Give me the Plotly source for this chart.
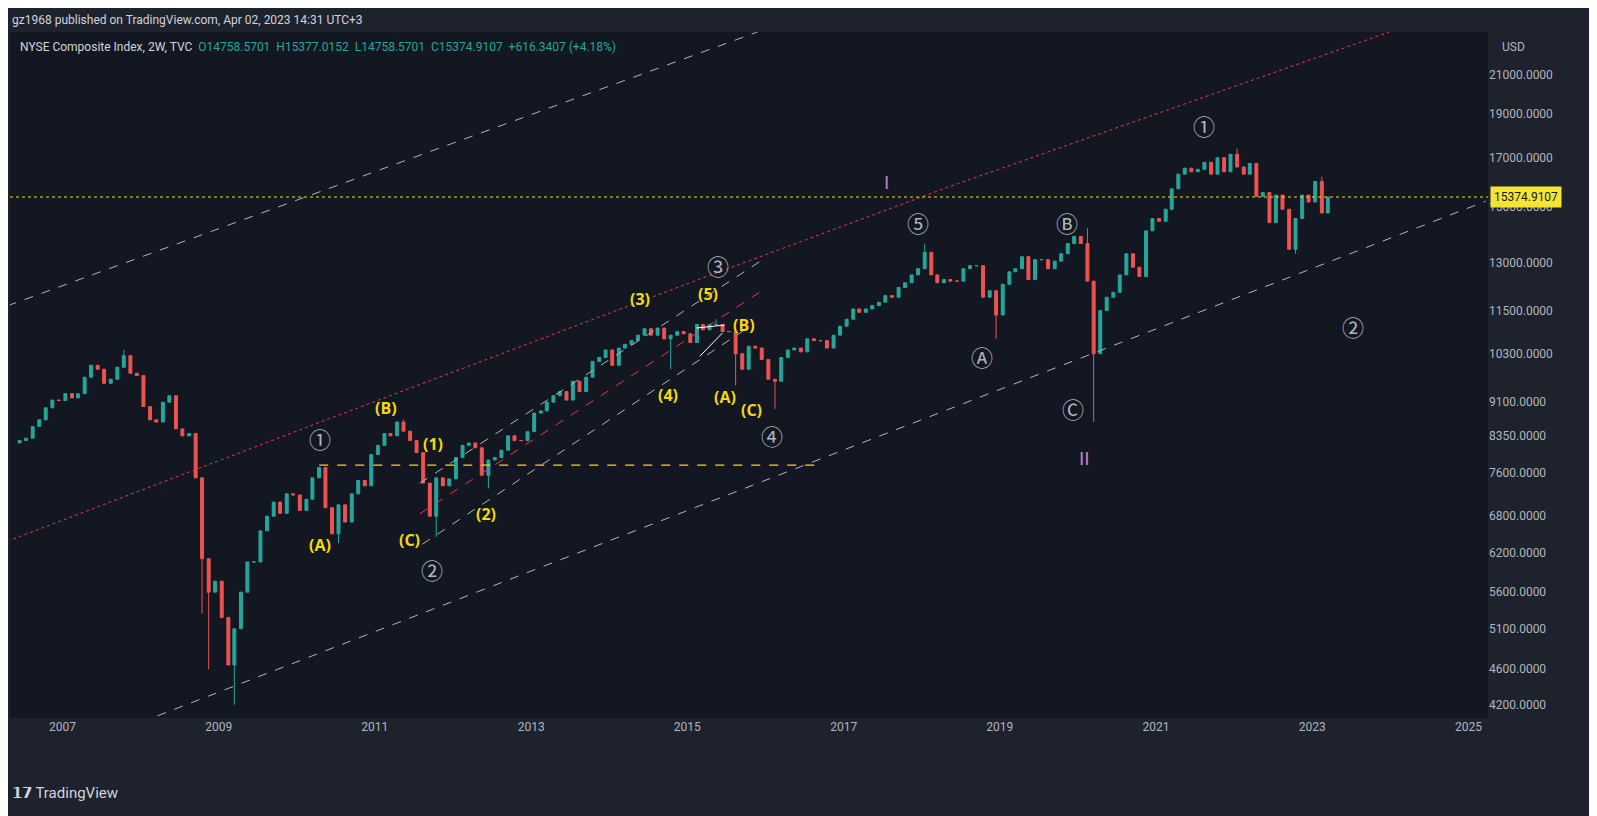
"""NYSE Composite Index, 2W - Elliott wave count"""
import datetime as dt
import math
import plotly.graph_objects as go

# monthly closes, Jun 2006 .. Mar 2023
start_year, start_month = 2006, 6
closes = [
    8250, 8300, 8550, 8700, 8970, 9150, 9140,
    9300, 9200, 9300, 9700, 10000, 9900, 9550, 9650, 9950, 10250, 9800, 9740,
    9000, 8700, 8650, 9100, 9250, 8500, 8350, 8400, 7500, 6100, 5600, 5760,
    5250, 4650, 5100, 5600, 6050, 6050, 6550, 6800, 7050, 6850, 7200, 7180,
    6900, 7100, 7500, 7700, 6950, 6500, 7000, 6700, 7200, 7450, 7350, 7960,
    8150, 8400, 8350, 8650, 8450, 8250, 8000, 7400, 6800, 7500, 7350, 7480,
    7900, 8150, 8200, 8100, 7550, 7850, 7900, 8050, 8350, 8250, 8250, 8440,
    8850, 8900, 9100, 9250, 9350, 9150, 9600, 9350, 9700, 10100, 10200, 10400,
    10000, 10450, 10550, 10650, 10800, 10980, 10800, 11000, 10700, 10800, 10900, 10840,
    10600, 11100, 10950, 11100, 11100, 10900, 10900, 10300, 9900, 10500, 10450, 10150,
    9650, 9600, 10200, 10400, 10450, 10350, 10700, 10650, 10650, 10450, 10800, 11050,
    11250, 11550, 11450, 11550, 11650, 11750, 11950, 11900, 12200, 12350, 12600, 12800,
    13350, 12600, 12350, 12450, 12400, 12400, 12800, 12900, 12900, 11900, 12100, 11370,
    12300, 12700, 12800, 13200, 12450, 13100, 13100, 12800, 13050, 13300, 13650, 13900,
    13650, 12400, 10300, 11500, 11900, 12050, 12600, 13300, 12850, 12550, 14100, 14550,
    14450, 14900, 15700, 16300, 16550, 16400, 16500, 16800, 16300, 17000, 16400, 17150,
    16600, 16300, 16750, 15400, 15550, 14400, 15450, 14900, 13450, 14550, 15450, 15180,
    16000, 14759, 15375,
]
first_open = 8200
# notable wicks
wick_lows = {(2008, 10): 5300, (2008, 11): 4600, (2009, 3): 4200, (2010, 7): 6350,
             (2011, 10): 6450, (2012, 6): 7300, (2014, 10): 9900, (2015, 8): 9500,
             (2016, 2): 8950, (2018, 12): 10700, (2020, 3): 8650, (2022, 10): 13300}
wick_highs = {(2007, 10): 10400, (2011, 5): 8700, (2015, 5): 11250, (2018, 1): 13650,
              (2020, 2): 14200, (2022, 1): 17400, (2023, 2): 16200}

last_price = 15374.9107
y_ticks = [4200, 4600, 5100, 5600, 6200, 6800, 7600, 8350, 9100, 10300,
           11500, 13000, 15000, 17000, 19000, 21000]

# Elliott labels: (decimal year, price, text)
yellow_labels = [(2010.30, 6320, "(A)"), (2011.14, 8960, "(B)"), (2011.75, 8185, "(1)"),
                 (2011.44, 6395, "(C)"), (2012.42, 6830, "(2)"), (2014.39, 11860, "(3)"),
                 (2014.75, 9270, "(4)"), (2015.27, 12010, "(5)"), (2015.73, 11085, "(B)"),
                 (2015.49, 9220, "(A)"), (2015.82, 8915, "(C)")]
circle_labels = [(2010.30, 8315, "①"), (2011.73, 5935, "②"), (2015.39, 12915, "③"),
                 (2016.09, 8360, "④"), (2017.95, 14440, "⑤"), (2018.77, 10230, "Ⓐ"),
                 (2019.86, 14440, "Ⓑ"), (2019.94, 8960, "Ⓒ"), (2021.61, 18470, "①"),
                 (2023.53, 11055, "②")]
roman_labels = [(2017.55, 15975, "I"), (2020.09, 7890, "II")]

# trend lines: (years, prices, colour, dash, width)
lines = [
    ([2006.3, 2015.9], [11645, 23440], "#b2b5be", "dash", 1),
    ([2007.36, 2025.22], [3820, 15210], "#b2b5be", "dash", 1),
    ([2006.3, 2010.29, 2015.29, 2018.34, 2023.99], [6380, 8640, 12585, 15770, 23440], "#f23645", "dot", 1),
    ([2010.29, 2016.69], [7750, 7750], "#f5d90a", "dash", 1.3),
    ([2011.58, 2015.96], [7400, 13085], "#b2b5be", "dash", 1),
    ([2011.58, 2015.96], [6845, 12105], "#f23645", "dash", 1),
    ([2011.61, 2015.81], [6330, 11055], "#b2b5be", "dash", 1),
    ([2015.12, 2015.48], [11000, 11085], "#ffffff", "solid", 1),
    ([2015.16, 2015.45], [10230, 10860], "#ffffff", "solid", 1),
]


def to_date(y):
    d = dt.datetime(int(y), 1, 1) + dt.timedelta(days=(y - int(y)) * 365.25)
    return d.strftime("%Y-%m-%d")


dates, opens, highs, lows = [], [], [], []
prev = first_open
for i, c in enumerate(closes):
    m = start_month - 1 + i
    yr, mo = start_year + m // 12, m % 12 + 1
    dates.append(f"{yr}-{mo:02d}-15")
    opens.append(prev)
    highs.append(wick_highs.get((yr, mo), max(prev, c)))
    lows.append(wick_lows.get((yr, mo), min(prev, c)))
    prev = c

fig = go.Figure()
fig.add_trace(go.Candlestick(
    x=dates, open=opens, high=highs, low=lows, close=closes,
    increasing=dict(line=dict(color="#26a69a", width=1), fillcolor="#26a69a"),
    decreasing=dict(line=dict(color="#ef5350", width=1), fillcolor="#ef5350"),
    whiskerwidth=0, showlegend=False, hoverinfo="skip"))

for xs, ys, col, dash, w in lines:
    fig.add_trace(go.Scatter(x=[to_date(v) for v in xs], y=ys, mode="lines",
                             line=dict(color=col, dash=dash, width=w),
                             showlegend=False, hoverinfo="skip"))

fig.add_hline(y=last_price, line=dict(color="#f5d90a", dash="dot", width=1))

for yx, p, t in yellow_labels:
    fig.add_annotation(x=to_date(yx), y=math.log10(p), text="<b>" + t + "</b>", showarrow=False,
                       font=dict(color="#f5d90a", size=16, family="Open Sans"))
for yx, p, t in circle_labels:
    fig.add_annotation(x=to_date(yx), y=math.log10(p), text=t, showarrow=False,
                       font=dict(color="#b2b5be", size=22, family="Noto Sans CJK SC"))
for yx, p, t in roman_labels:
    fig.add_annotation(x=to_date(yx), y=math.log10(p), text=t, showarrow=False,
                       font=dict(color="#c77dca", size=18, family="DejaVu Sans"))

# header texts
fig.add_annotation(x=0, y=1, xref="paper", yref="paper", yshift=12, xshift=0,
                   xanchor="left", yanchor="middle", showarrow=False,
                   text="gz1968 published on TradingView.com, Apr 02, 2023 14:31 UTC+3",
                   font=dict(color="#d1d4dc", size=12, family="Roboto"))
fig.add_annotation(x=0, y=1, xref="paper", yref="paper", xshift=8, yshift=-15,
                   xanchor="left", yanchor="middle", showarrow=False,
                   text="<span style='color:#d1d4dc'>NYSE Composite Index, 2W, TVC</span>"
                        "  O14758.5701  H15377.0152  L14758.5701  C15374.9107  +616.3407 (+4.18%)",
                   font=dict(color="#26a69a", size=12, family="Roboto"))
fig.add_annotation(x=1, y=1, xref="paper", yref="paper", xshift=12, yshift=-15,
                   xanchor="left", yanchor="middle", showarrow=False, text="USD",
                   font=dict(color="#b2b5be", size=12, family="Roboto"))
fig.add_annotation(x=1, y=math.log10(last_price), xref="paper", xshift=2,
                   xanchor="left", showarrow=False, text="15374.9107",
                   bgcolor="#f5e532", borderpad=3,
                   font=dict(color="#131722", size=12, family="Roboto"))
fig.add_annotation(x=0, y=0, xref="paper", yref="paper", xshift=0, yshift=-75,
                   xanchor="left", yanchor="middle", showarrow=False,
                   text="<b>𝟭𝟳</b> TradingView",
                   font=dict(color="#d1d4dc", size=15, family="Roboto"))

fig.update_layout(
    width=1597, height=816,
    margin=dict(l=2, r=117, t=24, b=106),
    paper_bgcolor="#1e222d", plot_bgcolor="#131722",
    xaxis=dict(type="date", range=[to_date(2006.33), to_date(2025.25)],
               rangeslider=dict(visible=False), showgrid=False, zeroline=False,
               tickvals=[f"{y}-01-01" for y in range(2007, 2026, 2)],
               ticktext=[str(y) for y in range(2007, 2026, 2)],
               tickfont=dict(color="#b2b5be", size=12, family="Roboto"), ticklen=0),
    yaxis=dict(type="log", side="right",
               range=[math.log10(4060), math.log10(23440)],
               tickvals=y_ticks, ticktext=[f"{v}.0000" for v in y_ticks],
               showgrid=False, zeroline=False,
               tickfont=dict(color="#b2b5be", size=12, family="Roboto"), ticklen=0),
)

fig.write_html("out.html")
